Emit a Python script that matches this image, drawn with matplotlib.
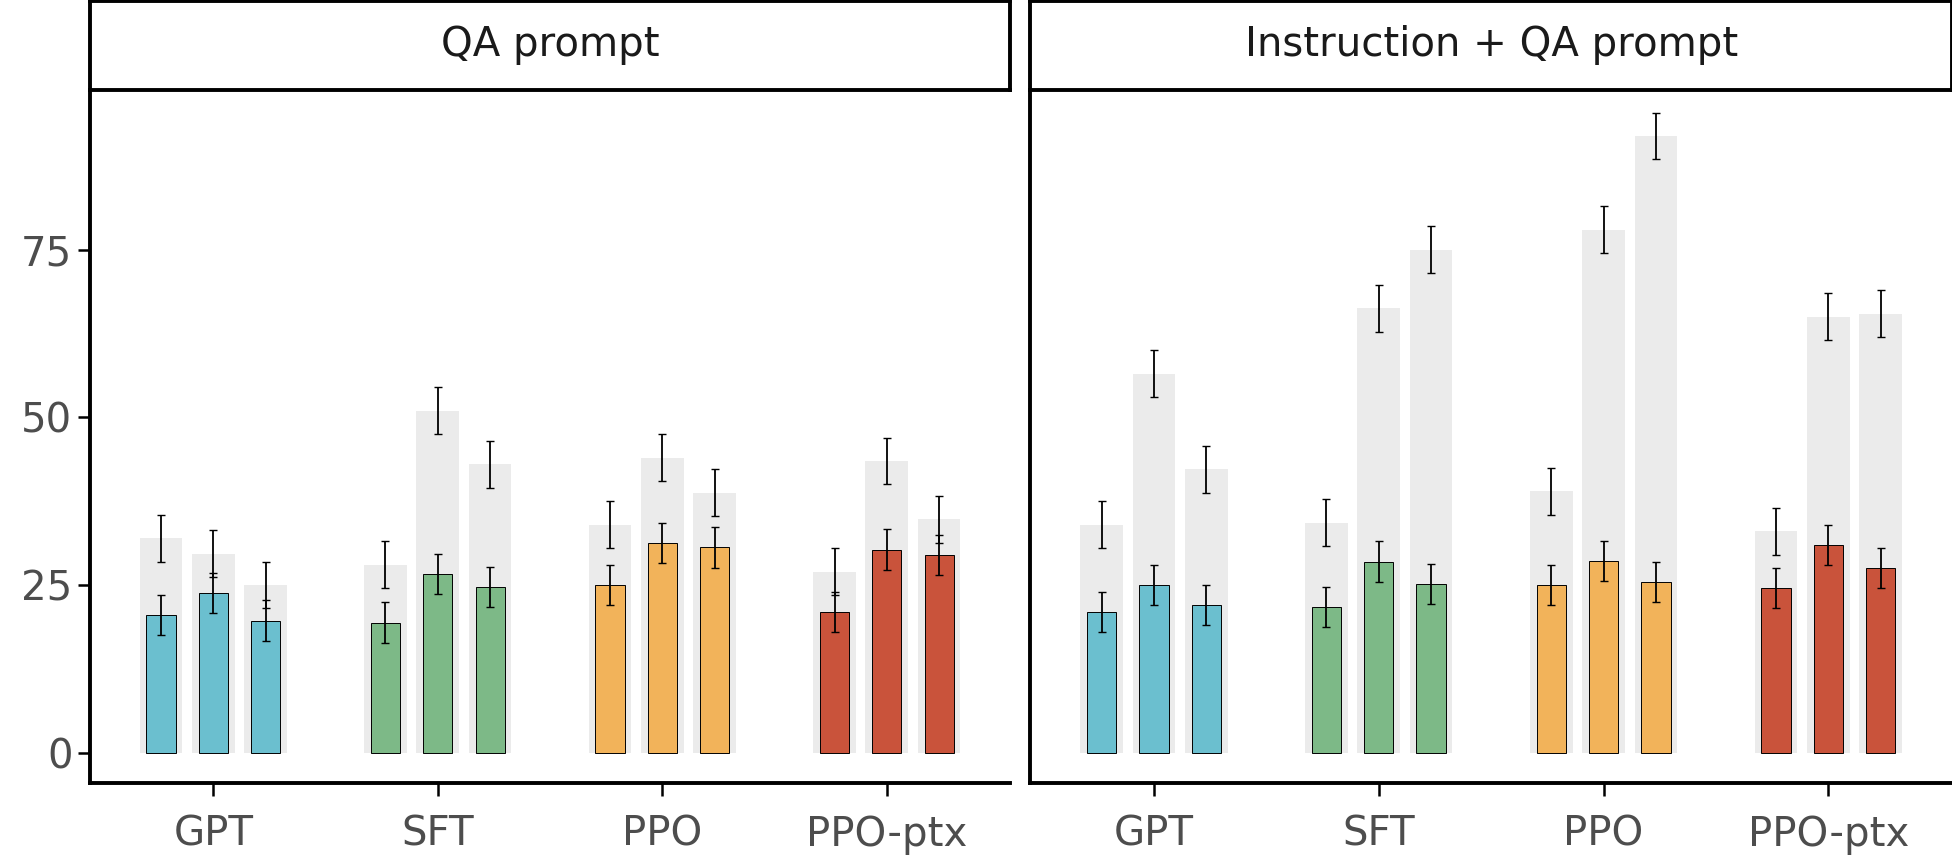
import numpy as np
import matplotlib.pyplot as plt

groups = ["GPT", "SFT", "PPO", "PPO-ptx"]
panels = ["QA prompt", "Instruction + QA prompt"]
colors = ["#6BBFCF", "#7DB987", "#F2B35A", "#C9533B"]

# gray (background) bar heights, per panel -> group -> 3 bars
gray_qa = [[32, 29.7, 25], [28, 51, 43], [34, 44, 38.8], [27, 43.5, 34.8]]
gray_iqa = [[34, 56.5, 42.3], [34.3, 66.3, 75], [39, 78, 92], [33, 65, 65.5]]
# colored bar heights
col_qa = [[20.5, 23.8, 19.7], [19.4, 26.7, 24.7], [25, 31.3, 30.6], [21, 30.3, 29.5]]
col_iqa = [[21, 25, 22], [21.7, 28.5, 25.2], [25, 28.6, 25.4], [24.6, 31, 27.5]]
gray_err = 3.5
col_err = 3.0

fig = plt.figure(figsize=(19.52, 8.65), dpi=100)
# layout measured in a 1565 x 694 frame
W, H = 1565, 694
boxes = [(72, 810), (826, 1565)]
offsets = [-0.233, 0, 0.233]

for p, ((x0, x1), gray, col) in enumerate(zip(boxes, [gray_qa, gray_iqa], [col_qa, col_iqa])):
    ax = fig.add_axes([x0 / W, 1 - 628 / H, (x1 - x0) / W, (628 - 72) / H])
    for g in range(4):
        for k in range(3):
            x = g + offsets[k]
            ax.bar(x, gray[g][k], width=0.19, color="#EBEBEB", zorder=1)
            ax.errorbar(x, gray[g][k], yerr=gray_err, fmt="none", ecolor="black",
                        elinewidth=1.3, capsize=3, zorder=3)
            ax.bar(x, col[g][k], width=0.13, color=colors[g], edgecolor="black",
                   linewidth=0.7, zorder=2)
            ax.errorbar(x, col[g][k], yerr=col_err, fmt="none", ecolor="black",
                        elinewidth=1.3, capsize=3, zorder=3)
    ax.set_xlim(-0.55, 3.55)
    ax.set_ylim(-4.5, 98.9)
    ax.set_xticks(range(4))
    ax.set_xticklabels(groups, fontsize=29, color="#4D4D4D")
    ax.spines["top"].set_visible(False)
    ax.spines["right"].set_visible(False)
    ax.spines["left"].set_linewidth(2.8)
    ax.spines["bottom"].set_linewidth(2.8)
    ax.tick_params(axis="x", length=9, width=1.8, pad=14)
    if p == 0:
        ax.set_yticks([0, 25, 50, 75])
        ax.tick_params(axis="y", labelsize=29, labelcolor="#4D4D4D", length=9, width=1.8)
    else:
        ax.set_yticks([])
    # strip
    sax = fig.add_axes([x0 / W, 1 - 72 / H, (x1 - x0) / W, 71 / H])
    sax.set_xticks([])
    sax.set_yticks([])
    for s in sax.spines.values():
        s.set_linewidth(2.8)
    sax.text(0.5, 0.5, panels[p], ha="center", va="center", fontsize=29,
             color="#1A1A1A", transform=sax.transAxes)

fig.savefig("out.png", dpi=100)
